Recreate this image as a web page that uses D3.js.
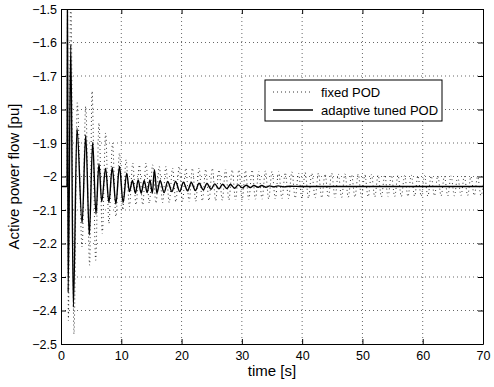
<!DOCTYPE html>
<html>
<head>
<meta charset="utf-8">
<script src="https://cdn.jsdelivr.net/npm/d3@7"></script>
<style>
  body { margin: 0; background: #fff; }
  text { font-family: "Liberation Sans", Arial, Helvetica, sans-serif; }
</style>
</head>
<body>
<svg id="chart" width="494" height="387"></svg>
<script>
// ticks
var xTicks = [0, 10, 20, 30, 40, 50, 60, 70];
var yTicks = [-2.5, -2.4, -2.3, -2.2, -2.1, -2.0, -1.9, -1.8, -1.7, -1.6, -1.5];
var legendLabels = ["fixed POD", "adaptive tuned POD"];

// fixed POD : turning points [time s, flow pu]
var fixedPod = [
  [0,-2.03],[1.0,-2.03],[1.08,-1.42],[1.22,-2.43],[1.62,-1.44],[2.15,-2.47],[2.7,-1.78],
  [3.5,-2.21],[4.1,-1.79],[4.75,-2.265],[5.15,-1.745],[5.75,-2.25],[6.3,-1.84],[6.85,-2.17],
  [7.4,-1.87],[7.95,-2.14],[8.55,-1.90],[9.1,-2.12],[9.7,-1.93],[10.25,-2.10],
  [10.8,-1.95],[11.35,-2.09],[11.9,-1.96],[12.45,-2.085],[13.0,-1.965],[13.55,-2.085],
  [14.1,-1.96],[14.65,-2.08],[15.2,-1.965],[15.75,-2.08],[16.3,-1.97],[16.85,-2.078],
  [17.4,-1.97],[17.95,-2.078],[18.5,-1.975],[19.05,-2.076],[19.6,-1.97],[20.15,-2.075],
  [20.7,-1.975],[21.25,-2.075],[21.8,-1.975],[22.35,-2.074],[22.9,-1.975],[23.45,-2.073],
  [24.0,-1.978],[24.55,-2.072],[25.1,-1.975],[25.65,-2.072],[26.2,-1.98],[26.75,-2.071],
  [27.3,-1.978],[27.85,-2.07],[28.4,-1.98],[28.95,-2.07],[29.5,-1.98],[30.05,-2.07],
  [30.6,-1.982],[31.15,-2.069],[31.7,-1.98],[32.25,-2.068],[32.8,-1.985],[33.35,-2.068],
  [33.9,-1.983],[34.45,-2.067],[35.0,-1.985],[35.55,-2.067],[36.1,-1.985],[36.65,-2.066],
  [37.2,-1.988],[37.75,-2.066],[38.3,-1.986],[38.85,-2.065],[39.4,-1.99],[39.95,-2.065],
  [40.5,-1.988],[41.05,-2.065],[41.6,-1.99],[42.15,-2.064],[42.7,-1.99],[43.25,-2.064],
  [43.8,-1.992],[44.35,-2.063],[44.9,-1.99],[45.45,-2.063],[46.0,-1.993],[46.55,-2.063],
  [47.1,-1.992],[47.65,-2.062],[48.2,-1.994],[48.75,-2.062],[49.3,-1.993],[49.85,-2.062],
  [50.4,-1.995],[50.95,-2.061],[51.5,-1.994],[52.05,-2.061],[52.6,-1.996],[53.15,-2.061],
  [53.7,-1.995],[54.25,-2.06],[54.8,-1.996],[55.35,-2.06],[55.9,-1.996],[56.45,-2.06],
  [57.0,-1.997],[57.55,-2.06],[58.1,-1.996],[58.65,-2.059],[59.2,-1.998],[59.75,-2.059],
  [60.3,-1.997],[60.85,-2.059],[61.4,-1.998],[61.95,-2.058],[62.5,-1.998],[63.05,-2.058],
  [63.6,-1.999],[64.15,-2.058],[64.7,-1.998],[65.25,-2.058],[65.8,-2.0],[66.35,-2.057],
  [66.9,-1.999],[67.45,-2.057],[68.0,-2.0],[68.55,-2.057],[69.1,-2.0],[69.65,-2.057],[70.2,-2.0]
];

// adaptive tuned POD : turning points
var adaptivePod = [
  [0,-2.03],[1.0,-2.03],[1.07,-1.40],[1.18,-2.345],[1.62,-1.607],[2.05,-2.39],[2.65,-1.856],
  [3.5,-2.14],[4.1,-1.876],[4.7,-2.175],[5.25,-1.898],[5.8,-2.112],[6.3,-1.962],[6.75,-2.075],
  [7.4,-1.976],[7.95,-2.078],[8.5,-1.973],[9.1,-2.082],[9.7,-1.97],[10.3,-2.078],[10.9,-1.99],
  [11.35,-2.045],[11.85,-2.012],[12.35,-2.05],[12.8,-2.01],[13.3,-2.05],[13.8,-2.012],
  [14.3,-2.048],[14.75,-2.01],[15.15,-2.05],[15.5,-1.98],[15.9,-2.05],[16.45,-2.012],
  [17.1,-2.048],[17.7,-2.015],[18.4,-2.045],[19.0,-2.015],[19.7,-2.045],[20.3,-2.017],
  [21.0,-2.043],[21.6,-2.018],[22.3,-2.042],[22.9,-2.02],[23.6,-2.04],[24.2,-2.021],
  [24.9,-2.038],[25.5,-2.022],[26.2,-2.037],[26.8,-2.023],[27.5,-2.036],[28.1,-2.024],
  [28.8,-2.035],[29.4,-2.025],[30.1,-2.034],[30.7,-2.026],[31.4,-2.033],[32.0,-2.027],
  [32.7,-2.032],[33.3,-2.027],[34.0,-2.032],[34.6,-2.028],[35.3,-2.031],[36.0,-2.028],
  [37.0,-2.031],[38.0,-2.029],[40,-2.03],[70,-2.03]
];

var svg = d3.select("#chart");
var margin = {top: 9, right: 11, bottom: 43, left: 61};
var width = 494 - margin.left - margin.right,
    height = 387 - margin.top - margin.bottom;

svg.append("rect").attr("width", 494).attr("height", 387).attr("fill", "#fff");

var g = svg.append("g").attr("transform", "translate(" + margin.left + "," + margin.top + ")");

var x = d3.scaleLinear().domain([0, 70]).range([0, width]);
var y = d3.scaleLinear().domain([-2.5, -1.5]).range([height, 0]);

// grid
g.append("g").selectAll("line")
  .data(xTicks.slice(1, -1))
  .enter().append("line")
  .attr("x1", d => x(d)).attr("x2", d => x(d))
  .attr("y1", 0).attr("y2", height)
  .attr("stroke", "#000").attr("stroke-width", 0.6)
  .attr("stroke-dasharray", "1,3");
g.append("g").selectAll("line")
  .data(yTicks.slice(1, -1))
  .enter().append("line")
  .attr("y1", d => y(d)).attr("y2", d => y(d))
  .attr("x1", 0).attr("x2", width)
  .attr("stroke", "#000").attr("stroke-width", 0.6)
  .attr("stroke-dasharray", "1,3");

// clip
svg.append("defs").append("clipPath").attr("id", "clip")
  .append("rect").attr("width", width).attr("height", height);

var line = d3.line()
  .x(d => x(d[0]))
  .y(d => y(d[1]))
  .curve(d3.curveMonotoneX);

var plot = g.append("g").attr("clip-path", "url(#clip)");

plot.append("path")
  .datum(fixedPod)
  .attr("d", line)
  .attr("fill", "none")
  .attr("stroke", "#000")
  .attr("stroke-width", 0.8)
  .attr("stroke-dasharray", "1,3");

plot.append("path")
  .datum(adaptivePod)
  .attr("d", line)
  .attr("fill", "none")
  .attr("stroke", "#000")
  .attr("stroke-width", 1.4);

// axes, MATLAB style: ticks inward on all four sides
var fmt = d3.format("~f");
var xAxis = d3.axisBottom(x).tickValues(xTicks).tickSizeInner(-5).tickSizeOuter(0).tickPadding(7);
var yAxis = d3.axisLeft(y).tickValues(yTicks).tickSizeInner(-5).tickSizeOuter(0).tickPadding(4)
  .tickFormat(d => fmt(d));

var gx = g.append("g").attr("transform", "translate(0," + height + ")").call(xAxis);
var gy = g.append("g").call(yAxis);
var gx2 = g.append("g").call(d3.axisTop(x).tickValues(xTicks).tickSizeInner(-5).tickSizeOuter(0).tickFormat(""));
var gy2 = g.append("g").attr("transform", "translate(" + width + ",0)")
  .call(d3.axisRight(y).tickValues(yTicks).tickSizeInner(-5).tickSizeOuter(0).tickFormat(""));

[gx, gy, gx2, gy2].forEach(function(a) {
  a.select(".domain").attr("stroke", "#000").attr("stroke-width", 1);
  a.selectAll(".tick line").attr("stroke", "#000");
  a.selectAll("text").attr("font-size", 12.5).attr("fill", "#000")
    .style("font-family", "'Liberation Sans', Arial, Helvetica, sans-serif");
});

// labels
svg.append("text")
  .attr("x", margin.left + width / 2)
  .attr("y", 376)
  .attr("text-anchor", "middle")
  .attr("font-size", 15)
  .text("time [s]");

svg.append("text")
  .attr("transform", "translate(19," + (margin.top + height / 2) + ") rotate(-90)")
  .attr("text-anchor", "middle")
  .attr("font-size", 15)
  .text("Active power flow [pu]");

// legend
var lg = svg.append("g").attr("transform", "translate(265,80)");
lg.append("rect").attr("width", 177).attr("height", 41)
  .attr("fill", "#fff").attr("stroke", "#000").attr("stroke-width", 1);
lg.selectAll("line.sample")
  .data(legendLabels)
  .enter().append("line")
  .attr("class", "sample")
  .attr("x1", 8).attr("x2", 48)
  .attr("y1", (d, i) => 12 + i * 18).attr("y2", (d, i) => 12 + i * 18)
  .attr("stroke", "#000")
  .attr("stroke-width", (d, i) => i == 0 ? 0.8 : 1.4)
  .attr("stroke-dasharray", (d, i) => i == 0 ? "1,3" : null);
lg.selectAll("text")
  .data(legendLabels)
  .enter().append("text")
  .attr("x", 56)
  .attr("y", (d, i) => 12 + i * 18)
  .attr("dy", "0.35em")
  .attr("font-size", 13)
  .text(d => d);
</script>
</body>
</html>
